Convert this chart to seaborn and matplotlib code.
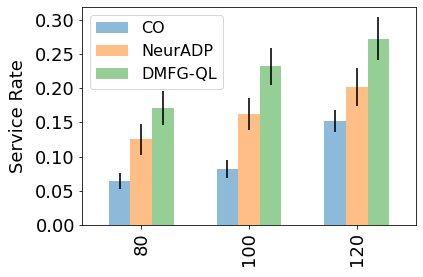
import matplotlib
matplotlib.use("Agg")
import matplotlib.pyplot as plt
from matplotlib.ticker import MultipleLocator, FormatStrFormatter
import seaborn as sns
import pandas as pd
import numpy as np

loads = ["80", "100", "120"]
methods = ["CO", "NeurADP", "DMFG-QL"]
co_rate = [0.064, 0.082, 0.152]
neuradp_rate = [0.125, 0.162, 0.202]
dmfg_rate = [0.171, 0.232, 0.272]
co_err = [0.0115, 0.0127, 0.0166]
neuradp_err = [0.0224, 0.0237, 0.0278]
dmfg_err = [0.025, 0.0268, 0.0315]

rates = {"CO": co_rate, "NeurADP": neuradp_rate, "DMFG-QL": dmfg_rate}
errs = {"CO": co_err, "NeurADP": neuradp_err, "DMFG-QL": dmfg_err}

rows = []
for m in methods:
    for l, v in zip(loads, rates[m]):
        rows.append({"Load": l, "Method": m, "Rate": v})
df = pd.DataFrame(rows)

fig = plt.figure(figsize=(423 / 72, 277 / 72), dpi=72)
ax = fig.add_axes([82 / 423, 1 - 225 / 277, (416 - 82) / 423, (225 - 7) / 277])

sns.barplot(data=df, x="Load", y="Rate", hue="Method", order=loads,
            hue_order=methods, palette=["tab:blue", "tab:orange", "tab:green"],
            width=0.6, saturation=1, alpha=0.5, errorbar=None, linewidth=0, ax=ax)

for cont, m in zip(ax.containers, methods):
    xs = [b.get_x() + b.get_width() / 2 for b in cont]
    hs = [b.get_height() for b in cont]
    ax.errorbar(xs, hs, yerr=errs[m], fmt="none", ecolor="black", alpha=0.8,
                elinewidth=2, capsize=0)

ax.set_xlim(-0.55, 2.55)
ax.set_ylim(0, 0.3187)
ax.yaxis.set_major_locator(MultipleLocator(0.05))
ax.yaxis.set_major_formatter(FormatStrFormatter("%.2f"))
ax.set_xlabel("")
ax.set_ylabel("Service Rate", fontsize=18, labelpad=8)
ax.tick_params(axis="both", labelsize=18)
ax.tick_params(axis="x", labelrotation=90)

handles, labels = ax.get_legend_handles_labels()
ax.legend(handles, labels, loc="upper left", fontsize=16)

fig.savefig("out.png", dpi=72)
